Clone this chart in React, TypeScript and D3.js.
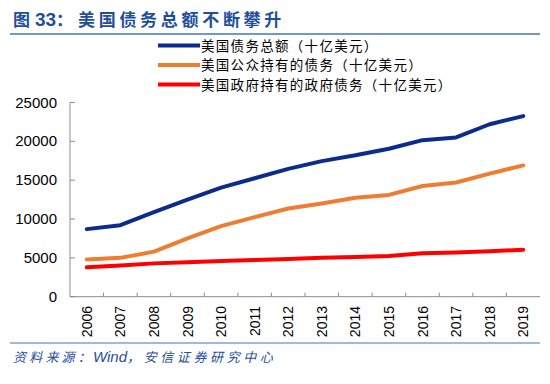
import React from "react";
import * as d3 from "d3";

const years = ["2006","2007","2008","2009","2010","2011","2012","2013","2014","2015","2016","2017","2018","2019"];
const totalDebt = [8700, 9200, 10900, 12500, 14050, 15250, 16450, 17450, 18200, 19050, 20150, 20500, 22200, 23250];
const publicDebt = [4800, 5000, 5800, 7500, 9080, 10250, 11350, 12000, 12730, 13100, 14250, 14700, 15850, 16900];
const govDebt = [3780, 4030, 4290, 4420, 4590, 4720, 4850, 5000, 5100, 5230, 5600, 5700, 5850, 6050];
const yTicks = [0, 5000, 10000, 15000, 20000, 25000];
const seriesNames = ["美国债务总额（十亿美元）", "美国公众持有的债务（十亿美元）", "美国政府持有的政府债务（十亿美元）"];
const seriesColors = ["#0B2C8C", "#ED7D31", "#FF0000"];

export default function App() {
  const W = 550, H = 384;
  const x = d3.scaleBand<string>().domain(years).range([70, 540]);
  const y = d3.scaleLinear().domain([0, 25000]).range([296.7, 102.5]);
  const line = d3.line<number>()
    .x((_, i) => (x(years[i]) as number) + x.bandwidth() / 2)
    .y((d) => y(d));
  const series = [totalDebt, publicDebt, govDebt];
  const legendY = [45.5, 65, 84.5];
  const axisColor = "#8c8c8c";
  return (
    <svg width={W} height={H} style={{ position: "absolute", left: 0, top: 0, background: "#fff" }}>
      <text x={13} y={26} fill="#1F4E9A" fontSize={17} fontWeight="bold" fontFamily="'Noto Sans CJK SC', sans-serif">
        <tspan>图</tspan>
        <tspan x={35} fontFamily="'Liberation Sans', Arial, sans-serif" fontSize={19}>33</tspan>
        <tspan x={56}>：</tspan>
        <tspan x={78} letterSpacing={3.7}>美国债务总额不断攀升</tspan>
      </text>
      <line x1={10} x2={540} y1={34} y2={34} stroke="#4472C4" strokeWidth={1.5} />

      {seriesNames.map((n, i) => (
        <g key={n}>
          <line x1={158} x2={200} y1={legendY[i]} y2={legendY[i]} stroke={seriesColors[i]} strokeWidth={4} />
          <text x={201} y={legendY[i] + 5} fontSize={13.5} letterSpacing={1.3} fontFamily="'Noto Sans CJK SC', sans-serif" fill="#000">{n}</text>
        </g>
      ))}

      <line x1={70} x2={70} y1={y(25000)} y2={y(0)} stroke={axisColor} strokeWidth={1} />
      <line x1={70} x2={540} y1={y(0)} y2={y(0)} stroke={axisColor} strokeWidth={1} />
      {yTicks.map((t) => (
        <g key={t}>
          <line x1={70} x2={75} y1={y(t)} y2={y(t)} stroke={axisColor} />
          <text x={57} y={y(t) + 5} textAnchor="end" fontSize={15} fontFamily="'Liberation Sans', Arial, sans-serif" fill="#000">{t}</text>
        </g>
      ))}
      {years.map((yr, i) => (
        <g key={yr}>
          {i > 0 && <line x1={x(yr) as number} x2={x(yr) as number} y1={y(0)} y2={y(0) - 4} stroke={axisColor} />}
          <text
            transform={`translate(${(x(yr) as number) + x.bandwidth() / 2 + 5},${306}) rotate(-90)`}
            textAnchor="end" fontSize={14} fontFamily="'Liberation Sans', Arial, sans-serif" fill="#000">{yr}</text>
        </g>
      ))}

      {series.map((s, i) => (
        <path key={i} d={line(s) as string} fill="none" stroke={seriesColors[i]} strokeWidth={4} strokeLinejoin="round" strokeLinecap="round" />
      ))}

      <line x1={10} x2={540} y1={343} y2={343} stroke="#4472C4" strokeWidth={1.2} />
      <text x={13} y={362} fontSize={13} fontStyle="italic" fill="#1F4E9A" fontFamily="'Noto Sans CJK SC', sans-serif">
        <tspan letterSpacing={3.2}>资料来源：</tspan>
        <tspan x={93} fontFamily="'Liberation Sans', Arial, sans-serif" fontSize={15}>Wind</tspan>
        <tspan letterSpacing={3.6}>，安信证券研究中心</tspan>
      </text>
    </svg>
  );
}
